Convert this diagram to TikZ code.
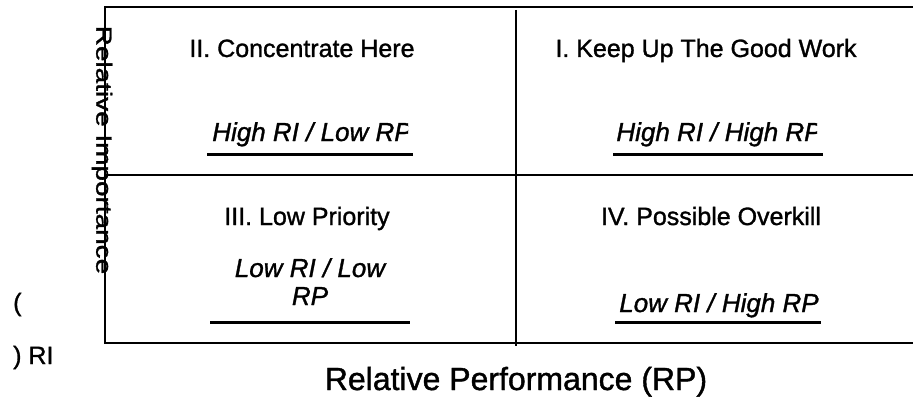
\documentclass[tikz,border=0pt]{standalone}
\usepackage{fontspec}
\setmainfont{Liberation Sans}[
  BoldFont=Liberation Sans, BoldFeatures={FakeBold=1.2},
  BoldItalicFont=Liberation Sans Italic, BoldItalicFeatures={FakeBold=1.2}]
\usepackage{graphicx}
\newcommand{\hs}[2]{\scalebox{#1}[1]{#2}}
\begin{document}
\begin{tikzpicture}[x=1pt,y=-1pt,
  frame/.style={line width=2pt},
  uline/.style={line width=3pt},
  qlabel/.style={inner sep=0pt, anchor=base, font=\fontsize{25}{30}\selectfont\bfseries},
  qsub/.style={inner sep=0pt, anchor=base, font=\fontsize{26}{31}\selectfont\bfseries\itshape},
  axlabel/.style={inner sep=0pt, anchor=base, font=\fontsize{32}{38}\selectfont\bfseries}]
\useasboundingbox (0,0) rectangle (913,412);
% frame
\coordinate (tl) at (105,7);
\coordinate (tr) at (913,7);
\coordinate (bl) at (105,343);
\coordinate (br) at (913,343);
\coordinate (ml) at (105,175);
\coordinate (mr) at (913,175);
\coordinate (vt) at (516,10);
\coordinate (vb) at (516,346);
\draw[frame] (tr) -- (tl) -- (bl) -- (br);
\draw[frame] (ml) -- (mr);
\draw[line width=2.5pt] (vt) -- (vb);
% axis labels
\node[axlabel] (xlab) at (516,390) {Relative Performance (RP)};
\node[inner sep=0pt, font=\fontsize{22}{26}\selectfont\bfseries, rotate=-90] (ylab) at (102,150) {\hs{1.27}{Relative Importance}};
\node[qlabel, anchor=base west] (lp) at (13,311) {(};
\node[qlabel, anchor=base west] (rp) at (13,364) {) RI};
% quadrant II
\node[qlabel] (q2) at (302,57) {II. Concentrate Here};
\begin{scope}
\clip (150,100) rectangle (408,160);
\node[qsub] (q2s) at (312,141) {High RI / Low RP};
\end{scope}
\coordinate (u2a) at (207,154); \coordinate (u2b) at (413,154);
\draw[uline] (u2a) -- (u2b);
% quadrant I
\node[qlabel] (q1) at (706,57) {I. Keep Up The Good Work};
\begin{scope}
\clip (560,100) rectangle (817,160);
\node[qsub] (q1s) at (719,141) {High RI / High RP};
\end{scope}
\coordinate (u1a) at (613,154); \coordinate (u1b) at (823,154);
\draw[uline] (u1a) -- (u1b);
% quadrant III
\node[qlabel] (q3) at (307,225) {III. Low Priority};
\node[qsub] (q3s) at (310,277) {Low RI / Low};
\node[qsub] (q3t) at (310,305) {RP};
\coordinate (u3a) at (210,322); \coordinate (u3b) at (410,322);
\draw[uline] (u3a) -- (u3b);
% quadrant IV
\node[qlabel] (q4) at (711,225) {IV. Possible Overkill};
\node[qsub] (q4s) at (719,312) {Low RI / High RP};
\coordinate (u4a) at (615,322); \coordinate (u4b) at (821,322);
\draw[uline] (u4a) -- (u4b);
\end{tikzpicture}
\end{document}
